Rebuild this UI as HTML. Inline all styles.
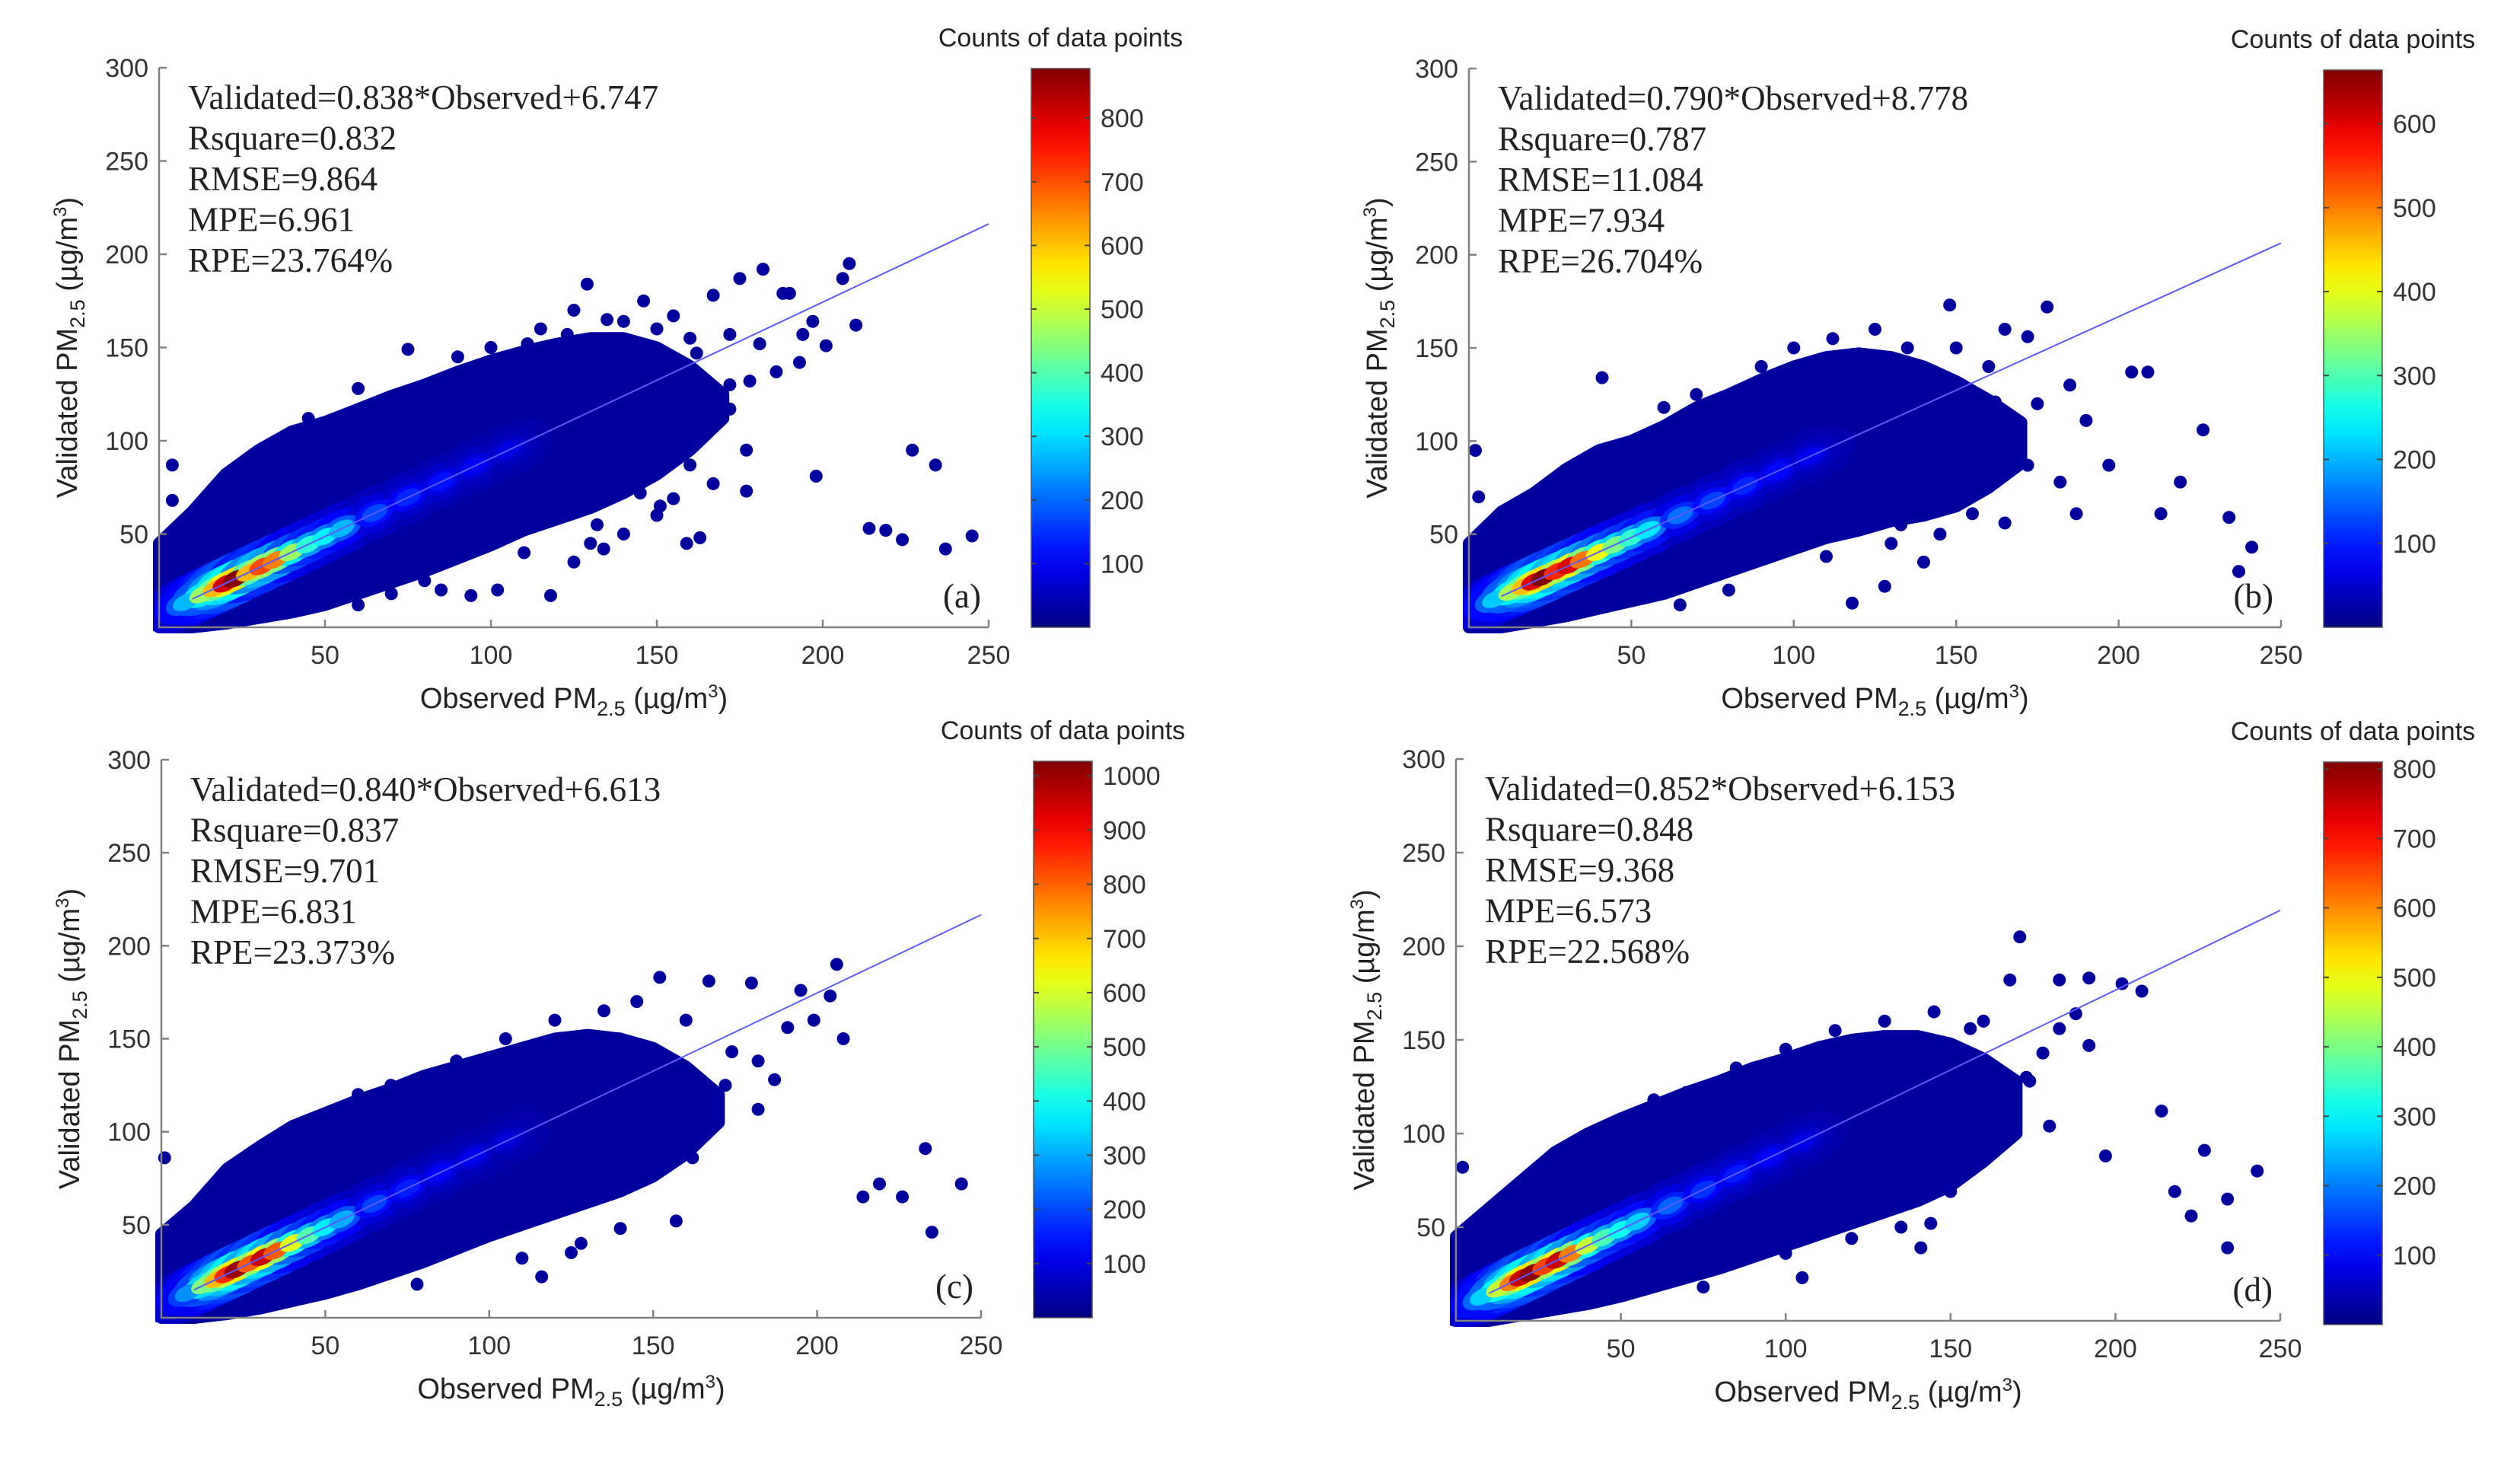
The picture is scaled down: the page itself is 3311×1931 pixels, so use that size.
<!DOCTYPE html>
<html><head><meta charset="utf-8"><title>PM2.5 validation scatter plots</title>
<style>
html,body{margin:0;padding:0;background:#fff;}
svg{display:block;}
.tick{font-family:"Liberation Sans",Arial,sans-serif;font-size:34px;fill:#333;}
.stat{font-family:"Liberation Serif","Times New Roman",serif;font-size:45px;fill:#222;}
.lab{font-family:"Liberation Sans",Arial,sans-serif;font-size:38px;fill:#222;}
.cbt{font-family:"Liberation Sans",Arial,sans-serif;font-size:34px;fill:#222;}
</style></head>
<body>
<svg id="fig" xmlns="http://www.w3.org/2000/svg" width="3311" height="1931" viewBox="0 0 3311 1931">
<rect width="3311" height="1931" fill="#fff"/>
</svg>
<script>
// ---------- shared categories ----------
const envX = [0,10,20,30,40,50,60,70,80,90,100,110,120,130,140,150,160,170];
const coreX = [8,13,17,20,23,27,31,35,40,45,50,55,65,75,85,95,105];
const xTicks = [50,100,150,200,250];
const yTicks = [50,100,150,200,250,300];

// ---------- panel (a) ----------
const slopeA = 0.838, interceptA = 6.747, cmaxA = 878;
const statsA = ["Validated=0.838*Observed+6.747","Rsquare=0.832","RMSE=9.864","MPE=6.961","RPE=23.764%"];
const upperA = [45,62,82,95,105,110,117,124,130,137,143,148,152,155,155,150,140,125];
const lowerA = [0,0,2,5,8,12,18,24,30,37,44,52,58,64,72,82,95,112];
const coreCountA = [250,450,600,800,870,600,700,650,450,350,300,250,150,120,100,80,60];
const outXA = [227,234,198,214,219,224,237,245,208,206,210,182,188,190,175,167,197,194,201,193,186,129,146,75,118,159,163,177,177,167,151,134,132,85,94,102,4,4,111,123,140,155,162,172,181,178,172,163,160,155,145,138,60,65,45,90,100,115,125,135,150,160,140,150,130,110,70,80,60,125,168,172];
const outYA = [95,87,81,53,52,47,42,49,195,187,162,192,179,179,187,178,164,157,151,142,137,184,175,149,17,45,48,73,95,77,65,42,55,20,17,20,87,68,152,157,164,167,147,157,152,132,117,104,87,69,72,72,128,120,112,145,150,160,170,165,160,155,50,60,45,40,18,25,12,35,110,130];
const cbTicksA = [100,200,300,400,500,600,700,800];

// ---------- panel (b) ----------
const slopeB = 0.790, interceptB = 8.778, cmaxB = 664;
const statsB = ["Validated=0.790*Observed+8.778","Rsquare=0.787","RMSE=11.084","MPE=7.934","RPE=26.704%"];
const upperB = [45,62,72,85,95,100,108,118,125,133,140,145,147,145,140,132,122,110];
const lowerB = [0,0,3,6,10,14,18,24,30,36,42,48,52,57,60,65,75,88];
const coreCountB = [200,350,450,600,664,550,600,500,400,320,270,220,140,110,90,70,55];
const outXB = [226,219,213,234,241,237,209,204,197,185,190,178,172,165,148,162,143,155,165,133,140,118,128,172,182,187,41,128,157,2,3,60,70,90,100,112,125,135,150,160,145,130,110,80,65,168,175];
const outYB = [106,78,61,59,43,30,137,137,87,130,111,172,156,160,173,121,134,61,56,55,35,13,22,87,78,61,134,123,104,95,70,118,125,140,150,155,160,150,150,140,50,45,38,20,12,100,120];
const cbTicksB = [100,200,300,400,500,600];

// ---------- panel (c) ----------
const slopeC = 0.840, interceptC = 6.613, cmaxC = 1027;
const statsC = ["Validated=0.840*Observed+6.613","Rsquare=0.837","RMSE=9.701","MPE=6.831","RPE=23.373%"];
const upperC = [45,60,80,92,103,110,117,123,130,135,140,145,150,152,150,145,135,120];
const lowerC = [0,0,2,5,9,13,18,24,30,37,44,50,56,62,68,76,88,105];
const coreCountC = [250,500,700,850,1000,800,950,800,600,450,350,280,170,130,100,80,60];
const outXC = [233,226,235,244,214,219,208,204,199,191,180,167,152,174,182,169,162,157,150,145,116,125,1,182,187,206,195,60,70,90,105,120,135,145,160,140,128,110,78,165,172];
const outYC = [91,65,46,72,65,72,150,173,160,156,180,181,183,143,112,104,86,52,95,78,22,35,86,138,128,190,176,120,125,138,150,160,165,170,160,48,40,32,18,110,125];
const cbTicksC = [100,200,300,400,500,600,700,800,900,1000];

// ---------- panel (d) ----------
const slopeD = 0.852, interceptD = 6.153, cmaxD = 810;
const statsD = ["Validated=0.852*Observed+6.153","Rsquare=0.848","RMSE=9.368","MPE=6.573","RPE=22.568%"];
const upperD = [45,60,75,90,100,108,115,122,128,135,140,146,150,152,152,148,140,128];
const lowerD = [0,0,3,6,9,13,18,23,28,34,40,46,52,58,64,72,85,100];
const coreCountD = [250,450,600,750,800,650,750,600,450,350,300,250,160,120,100,80,60];
const outXD = [243,234,234,227,214,223,218,197,180,171,183,192,202,188,168,156,178,162,150,144,141,105,2,183,173,192,208,60,70,85,100,115,130,145,160,135,120,100,75,166,174];
const outYD = [80,65,39,91,112,56,69,88,104,205,182,183,180,164,182,156,143,112,69,52,39,23,82,156,130,147,176,118,122,135,145,155,160,165,160,50,44,36,18,110,128];
const cbTicksD = [100,200,300,400,500,600,700,800];

// ---------- layout (pixels) ----------
const panels = [
  {id:"a", x0:209, x1:1299, yTop:89, yBase:824, cbL:1355, cbR:1432, cbT:90, cbB:824,
   slope:slopeA, icpt:interceptA, cmax:cmaxA, stats:statsA, up:upperA, lo:lowerA, core:coreCountA, ox:outXA, oy:outYA, cbt:cbTicksA},
  {id:"b", x0:1930, x1:2997, yTop:90, yBase:824, cbL:3053, cbR:3130, cbT:92, cbB:824,
   slope:slopeB, icpt:interceptB, cmax:cmaxB, stats:statsB, up:upperB, lo:lowerB, core:coreCountB, ox:outXB, oy:outYB, cbt:cbTicksB},
  {id:"c", x0:212, x1:1289, yTop:998, yBase:1731, cbL:1358, cbR:1435, cbT:1000, cbB:1731,
   slope:slopeC, icpt:interceptC, cmax:cmaxC, stats:statsC, up:upperC, lo:lowerC, core:coreCountC, ox:outXC, oy:outYC, cbt:cbTicksC},
  {id:"d", x0:1913, x1:2996, yTop:997, yBase:1735, cbL:3053, cbR:3130, cbT:1001, cbB:1740,
   slope:slopeD, icpt:interceptD, cmax:cmaxD, stats:statsD, up:upperD, lo:lowerD, core:coreCountD, ox:outXD, oy:outYD, cbt:cbTicksD}
];

const NS = "http://www.w3.org/2000/svg";
const svg = document.getElementById("fig");
function mk(tag, attrs, parent){
  const e = document.createElementNS(NS, tag);
  for (const k in attrs) e.setAttribute(k, attrs[k]);
  (parent||svg).appendChild(e);
  return e;
}
function clamp(v){return Math.max(0,Math.min(1,v));}
function jet(t){
  t = clamp(t);
  const r = clamp(1.5-Math.abs(4*t-3)), g = clamp(1.5-Math.abs(4*t-2)), b = clamp(1.5-Math.abs(4*t-1));
  return "rgb("+Math.round(r*255)+","+Math.round(g*255)+","+Math.round(b*255)+")";
}

panels.forEach(function(p){
  const g = mk("g", {});
  
  
  const sx = v => p.x0 + (p.x1 - p.x0) * v / 250;
  const sy = v => p.yBase - (p.yBase - p.yTop) * v / 300;
  const navy = jet(0.03);

  const defs = mk("defs", {}, g);
  const cp = mk("clipPath", {id:"clip" + p.id}, defs);
  mk("rect", {x:p.x0 - 8, y:p.yTop, width:p.x1 - p.x0 + 16, height:p.yBase - p.yTop + 8}, cp);
  const plot = mk("g", {"clip-path":"url(#clip" + p.id + ")"}, g);
  
  

  // dense cloud
  let d = "";
  envX.forEach((x,i) => { d += (i ? "L" : "M") + sx(x).toFixed(1) + "," + sy(p.up[i]).toFixed(1); });
  for (let i = envX.length - 1; i >= 0; i--) d += "L" + sx(envX[i]).toFixed(1) + "," + sy(p.lo[i]).toFixed(1);
  d += "Z";
  const cloud = mk("path", {d:d, fill:navy, stroke:navy, "stroke-width":16, "stroke-linejoin":"round"}, plot);
  
  

  // density core along the fit line
  const ang = -Math.atan(p.slope * ((p.yBase - p.yTop)/300) / ((p.x1 - p.x0)/250)) * 180 / Math.PI;
  const layers = [[0.18,62,34],[0.35,44,24],[0.65,28,15],[1.0,18,10]];
  layers.forEach(function(L){
    coreX.forEach(function(x,i){
      const cx = sx(x), cy = sy(p.slope * x + p.icpt);
      const e = mk("ellipse", {cx:cx.toFixed(1), cy:cy.toFixed(1), rx:L[1], ry:L[2],
        fill: jet(0.03 + 0.97 * p.core[i] * L[0] / p.cmax),
        transform:"rotate(" + ang.toFixed(2) + " " + cx.toFixed(1) + " " + cy.toFixed(1) + ")"}, plot);
      
      
    });
  });

  // outliers
  p.ox.forEach(function(x,i){
    const c = mk("circle", {cx:sx(x).toFixed(1), cy:sy(p.oy[i]).toFixed(1), r:8.5, fill:navy}, plot);
    
    
  });

  // fit line
  const fl = mk("line", {x1:sx(10), y1:sy(p.slope*10+p.icpt), x2:sx(250), y2:sy(p.slope*250+p.icpt), stroke:"#5a5aff", "stroke-width":2}, plot);
  
  

  // axes
  const ax = mk("path", {d:"M"+p.x0+","+p.yTop+" L"+p.x0+","+p.yBase+" L"+p.x1+","+p.yBase, fill:"none", stroke:"#808080", "stroke-width":2.5}, g);
  
  
  xTicks.forEach(function(v){
    mk("line", {x1:sx(v), y1:p.yBase, x2:sx(v), y2:p.yBase-10, stroke:"#808080", "stroke-width":2.5}, g);
    const t = mk("text", {x:sx(v), y:p.yBase+48, "text-anchor":"middle", class:"tick"}, g);
    t.textContent = v;
    
    
  });
  yTicks.forEach(function(v){
    mk("line", {x1:p.x0, y1:sy(v), x2:p.x0+10, y2:sy(v), stroke:"#808080", "stroke-width":2.5}, g);
    const t = mk("text", {x:p.x0-14, y:sy(v)+12, "text-anchor":"end", class:"tick"}, g);
    t.textContent = v;
    
    
  });

  // axis titles
  const xt = mk("text", {x:(p.x0+p.x1)/2, y:p.yBase+106, "text-anchor":"middle", class:"lab"}, g);
  xt.innerHTML = 'Observed PM<tspan font-size="27" dy="10">2.5</tspan><tspan dy="-10"> (µg/m</tspan><tspan font-size="24" dy="-14">3</tspan><tspan dy="14">)</tspan>';
  
  
  const ymid = (p.yTop + p.yBase) / 2;
  const yt = mk("text", {x:0, y:0, "text-anchor":"middle", class:"lab", transform:"translate(" + (p.x0-108) + "," + ymid + ") rotate(-90)"}, g);
  yt.innerHTML = 'Validated PM<tspan font-size="27" dy="10">2.5</tspan><tspan dy="-10"> (µg/m</tspan><tspan font-size="24" dy="-14">3</tspan><tspan dy="14">)</tspan>';
  
  

  // stats
  p.stats.forEach(function(s,i){
    const t = mk("text", {x:p.x0+38, y:p.yTop+54+i*53.5, class:"stat"}, g);
    t.textContent = s;
    
    
  });
  const pl = mk("text", {x:p.x1-10, y:p.yBase-26, "text-anchor":"end", class:"stat"}, g);
  pl.textContent = "(" + p.id + ")";
  
  

  // colorbar
  const gid = "jet" + p.id;
  const lg = mk("linearGradient", {id:gid, x1:0, y1:1, x2:0, y2:0}, defs);
  for (let k = 0; k <= 20; k++) mk("stop", {offset:(k/20), "stop-color":jet(k/20)}, lg);
  const cb = mk("rect", {x:p.cbL, y:p.cbT, width:p.cbR-p.cbL, height:p.cbB-p.cbT, fill:"url(#"+gid+")", stroke:"#555", "stroke-width":1.5}, g);
  
  
  const cy = v => p.cbB - (p.cbB - p.cbT) * v / p.cmax;
  p.cbt.forEach(function(v){
    mk("line", {x1:p.cbL, y1:cy(v), x2:p.cbL+7, y2:cy(v), stroke:"#444", "stroke-width":2}, g);
    mk("line", {x1:p.cbR, y1:cy(v), x2:p.cbR-7, y2:cy(v), stroke:"#444", "stroke-width":2}, g);
    const t = mk("text", {x:p.cbR+14, y:cy(v)+12, class:"tick"}, g);
    t.textContent = v;
    
    
  });
  const ct = mk("text", {x:(p.cbL+p.cbR)/2, y:p.cbT-29, "text-anchor":"middle", class:"cbt"}, g);
  ct.textContent = "Counts of data points";
  
  
});
</script>
</body></html>
